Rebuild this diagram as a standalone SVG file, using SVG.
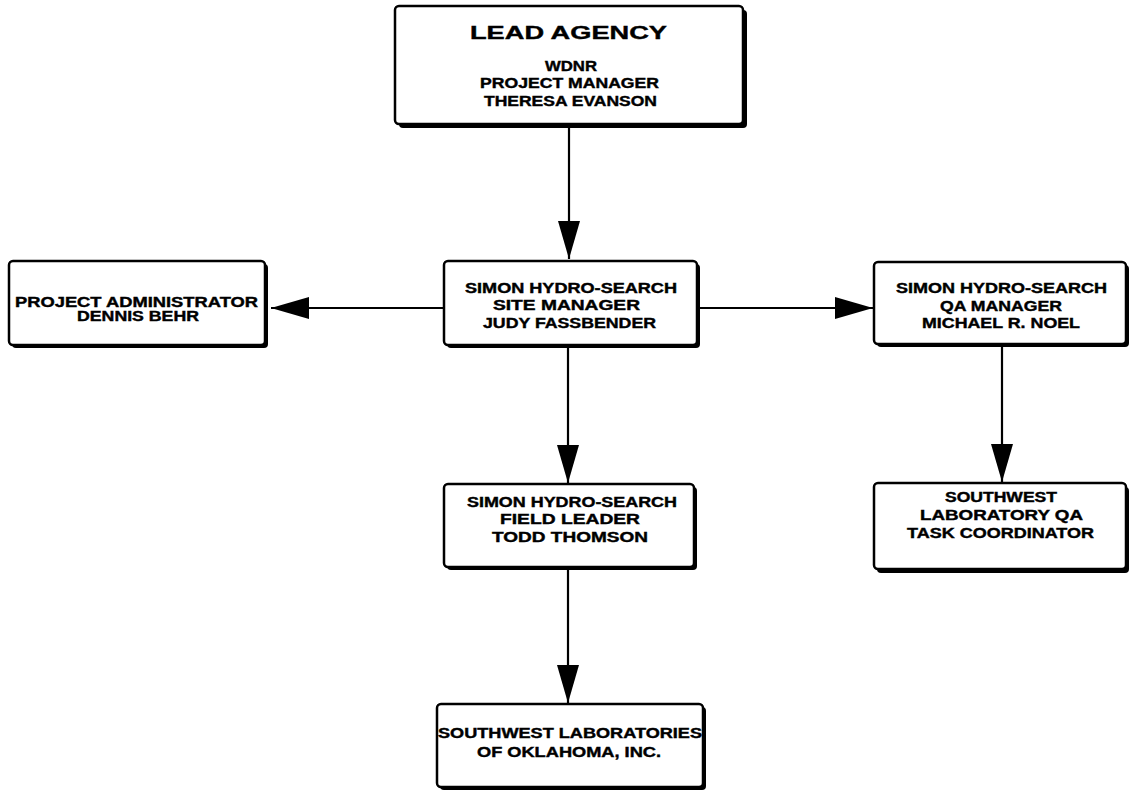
<svg xmlns="http://www.w3.org/2000/svg" width="1133" height="794" viewBox="0 0 1133 794">
<style>
.bg{fill:#ffffff}
.sh{fill:#000000}
.bx{fill:#ffffff;stroke:#000000;stroke-width:2.5}
.t{font-family:"Liberation Sans",Arial,Helvetica,sans-serif;font-weight:bold;font-size:14.5px;fill:#000000;stroke:#000000;stroke-width:0.4}
.big{font-size:19px}
.c{stroke:#000000;stroke-width:2.2;fill:none}
</style>
<defs>
<marker id="ah" markerUnits="userSpaceOnUse" markerWidth="40" markerHeight="24" refX="38" refY="11" orient="auto">
<path d="M0,0 L38,11 L0,22 z" fill="#000000"/>
</marker>
</defs>
<rect class="bg" x="0" y="0" width="1133" height="794"/>
<g id="connectors">
<line class="c" x1="569" y1="128" x2="569" y2="259" marker-end="url(#ah)"/>
<line class="c" x1="443" y1="308" x2="271" y2="308" marker-end="url(#ah)"/>
<line class="c" x1="700" y1="308" x2="873" y2="308" marker-end="url(#ah)"/>
<line class="c" x1="568" y1="348" x2="568" y2="483" marker-end="url(#ah)"/>
<line class="c" x1="1002" y1="347" x2="1002" y2="482" marker-end="url(#ah)"/>
<line class="c" x1="568" y1="570" x2="568" y2="703" marker-end="url(#ah)"/>
</g>
<g id="lead-agency">
<rect class="sh" x="399" y="10" width="348" height="118" rx="4"/>
<rect class="bx" x="395" y="6" width="348" height="118" rx="4"/>
<text class="t big" x="470" y="39" textLength="197" lengthAdjust="spacingAndGlyphs">LEAD AGENCY</text>
<text class="t" x="545" y="71" textLength="52" lengthAdjust="spacingAndGlyphs">WDNR</text>
<text class="t" x="480" y="88" textLength="179" lengthAdjust="spacingAndGlyphs">PROJECT MANAGER</text>
<text class="t" x="484" y="106" textLength="173" lengthAdjust="spacingAndGlyphs">THERESA EVANSON</text>
</g>
<g id="project-administrator">
<rect class="sh" x="12" y="264" width="256" height="84" rx="4"/>
<rect class="bx" x="9" y="261" width="256" height="84" rx="4"/>
<text class="t" x="15" y="307" textLength="243" lengthAdjust="spacingAndGlyphs">PROJECT ADMINISTRATOR</text>
<text class="t" x="77" y="321" textLength="122" lengthAdjust="spacingAndGlyphs">DENNIS BEHR</text>
</g>
<g id="site-manager">
<rect class="sh" x="447" y="264" width="253" height="84" rx="4"/>
<rect class="bx" x="444" y="261" width="253" height="84" rx="4"/>
<text class="t" x="465" y="293" textLength="212" lengthAdjust="spacingAndGlyphs">SIMON HYDRO-SEARCH</text>
<text class="t" x="493" y="310" textLength="147" lengthAdjust="spacingAndGlyphs">SITE MANAGER</text>
<text class="t" x="483" y="328" textLength="173" lengthAdjust="spacingAndGlyphs">JUDY FASSBENDER</text>
</g>
<g id="qa-manager">
<rect class="sh" x="877" y="265" width="252" height="82" rx="4"/>
<rect class="bx" x="874" y="262" width="252" height="82" rx="4"/>
<text class="t" x="896" y="293" textLength="211" lengthAdjust="spacingAndGlyphs">SIMON HYDRO-SEARCH</text>
<text class="t" x="940" y="311" textLength="122" lengthAdjust="spacingAndGlyphs">QA MANAGER</text>
<text class="t" x="922" y="328" textLength="158" lengthAdjust="spacingAndGlyphs">MICHAEL R. NOEL</text>
</g>
<g id="field-leader">
<rect class="sh" x="447" y="487" width="250" height="83" rx="4"/>
<rect class="bx" x="444" y="484" width="250" height="83" rx="4"/>
<text class="t" x="467" y="507" textLength="210" lengthAdjust="spacingAndGlyphs">SIMON HYDRO-SEARCH</text>
<text class="t" x="500" y="524" textLength="140" lengthAdjust="spacingAndGlyphs">FIELD LEADER</text>
<text class="t" x="492" y="542" textLength="156" lengthAdjust="spacingAndGlyphs">TODD THOMSON</text>
</g>
<g id="sw-lab-qa">
<rect class="sh" x="877" y="487" width="252" height="86" rx="4"/>
<rect class="bx" x="874" y="483" width="252" height="86" rx="4"/>
<text class="t" x="945" y="502" textLength="112" lengthAdjust="spacingAndGlyphs">SOUTHWEST</text>
<text class="t" x="920" y="520" textLength="163" lengthAdjust="spacingAndGlyphs">LABORATORY QA</text>
<text class="t" x="907" y="538" textLength="187" lengthAdjust="spacingAndGlyphs">TASK COORDINATOR</text>
</g>
<g id="sw-labs">
<rect class="sh" x="440" y="707" width="266" height="83" rx="4"/>
<rect class="bx" x="437" y="704" width="266" height="83" rx="4"/>
<text class="t" x="438" y="738" textLength="264" lengthAdjust="spacingAndGlyphs">SOUTHWEST LABORATORIES</text>
<text class="t" x="477" y="757" textLength="184" lengthAdjust="spacingAndGlyphs">OF OKLAHOMA, INC.</text>
</g>
</svg>
